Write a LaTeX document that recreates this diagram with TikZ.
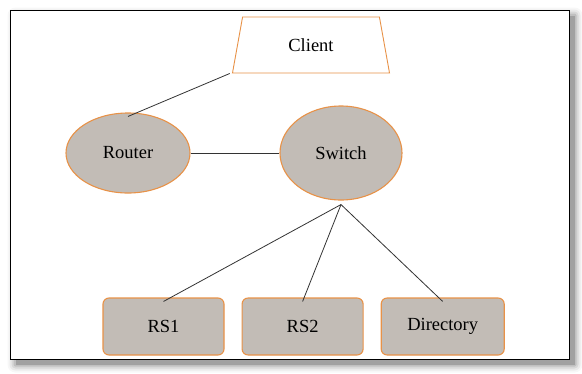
\documentclass[tikz,border=0pt]{standalone}
\usepackage{fontspec}
\setmainfont{Liberation Serif}
\usepackage{tikz}
\usetikzlibrary{ % tikz packages
    positioning,
    shapes.geometric
}
\definecolor{boxfill}{RGB}{194,188,182}
\definecolor{boxline}{RGB}{232,146,72}
\tikzset{every node/.style={
    font=\fontsize{18.5}{21}\selectfont
}}
\tikzset{hostbox/.style={
    ellipse,draw=boxline,fill=boxfill,line width=1.1pt
}}
\tikzset{serverbox/.style={
    rectangle,rounded corners=6pt,draw=boxline,fill=boxfill,line width=1.1pt,
    minimum width=121pt,minimum height=57pt
}}
\tikzset{clientbox/.style={
    trapezium,trapezium left angle=79,trapezium right angle=79,
    trapezium stretches=true,draw=boxline,fill=white,line width=0.9pt,
    minimum width=158pt,minimum height=56pt
}}
\tikzset{wire/.style={draw=black!80,line width=0.8pt}}

\begin{document}
\begin{tikzpicture}[x=1pt,y=-1pt]
        \useasboundingbox (0,0) rectangle (582,373);

        % frame with a soft shadow
        \foreach \s/\o in {8/0.03,6/0.05,4/0.08,2/0.11,0/0.16}
            \fill[black,opacity=\o,rounded corners=\s pt]
                (15.5-\s,15.5-\s) rectangle (574.5+\s,364.5+\s);
        \fill[white] (10.5,10.5) rectangle (569.5,359.5);
        \draw[black,line width=1.4pt] (10.5,10.5) rectangle (569.5,359.5);

        \node[clientbox] (client) at (311,45) {Client};
        \node[hostbox,minimum width=124pt,minimum height=80pt] (router) at (128,153) {Router};
        \node[hostbox,minimum width=122pt,minimum height=94pt] (switch) at (341,153) {Switch};

        \node[serverbox] (rs1) at (163.5,326.5) {RS1};
        \node[serverbox] (rs2) [right=17pt of rs1] {RS2};
        \node[serverbox,minimum width=123pt] (dir) [right=17pt of rs2] {Directory};

        \coordinate (hub) at ([yshift=-4pt]switch.south);

        \path[wire]
            ([xshift=-3pt]client.200)
                edge ([yshift=-4pt]router.north)
            (router)
                edge (switch)
            (hub)
                edge ([yshift=-4pt]rs1.north)
                edge ([yshift=-4pt]rs2.north)
                edge ([yshift=-4pt]dir.north);
    \end{tikzpicture}
\end{document}
